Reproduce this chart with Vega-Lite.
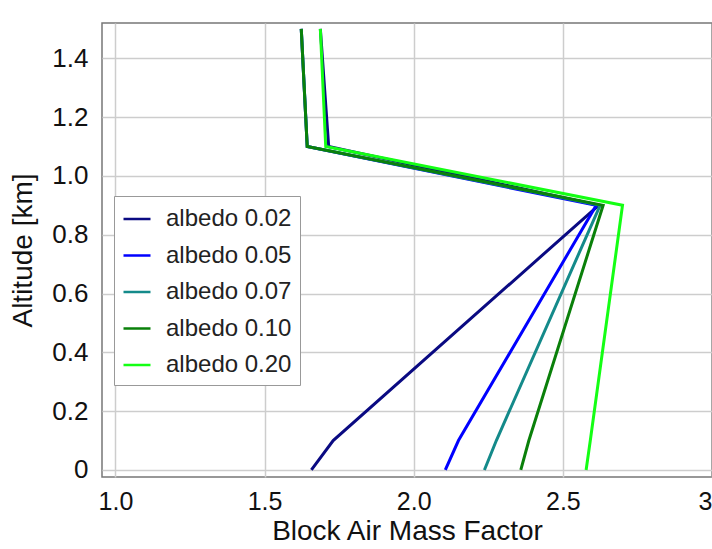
{
  "$schema": "https://vega.github.io/schema/vega-lite/v6.json",
  "autosize": {"type": "none"},
  "padding": {"left": 102, "top": 23, "right": 0, "bottom": 72},
  "width": 610,
  "height": 454,
  "background": "white",
  "data": {"values": [
    {"s": "albedo 0.02", "amf": 1.657, "alt": 0},
    {"s": "albedo 0.02", "amf": 1.73, "alt": 0.1},
    {"s": "albedo 0.02", "amf": 2.62, "alt": 0.9},
    {"s": "albedo 0.02", "amf": 1.715, "alt": 1.1},
    {"s": "albedo 0.02", "amf": 1.687, "alt": 1.5},
    {"s": "albedo 0.05", "amf": 2.106, "alt": 0},
    {"s": "albedo 0.05", "amf": 2.15, "alt": 0.1},
    {"s": "albedo 0.05", "amf": 2.612, "alt": 0.9},
    {"s": "albedo 0.05", "amf": 1.643, "alt": 1.1},
    {"s": "albedo 0.05", "amf": 1.623, "alt": 1.5},
    {"s": "albedo 0.07", "amf": 2.237, "alt": 0},
    {"s": "albedo 0.07", "amf": 2.277, "alt": 0.1},
    {"s": "albedo 0.07", "amf": 2.625, "alt": 0.9},
    {"s": "albedo 0.07", "amf": 1.643, "alt": 1.1},
    {"s": "albedo 0.07", "amf": 1.623, "alt": 1.5},
    {"s": "albedo 0.10", "amf": 2.359, "alt": 0},
    {"s": "albedo 0.10", "amf": 2.386, "alt": 0.1},
    {"s": "albedo 0.10", "amf": 2.635, "alt": 0.9},
    {"s": "albedo 0.10", "amf": 1.643, "alt": 1.1},
    {"s": "albedo 0.10", "amf": 1.623, "alt": 1.5},
    {"s": "albedo 0.20", "amf": 2.578, "alt": 0},
    {"s": "albedo 0.20", "amf": 2.592, "alt": 0.1},
    {"s": "albedo 0.20", "amf": 2.70, "alt": 0.9},
    {"s": "albedo 0.20", "amf": 1.705, "alt": 1.1},
    {"s": "albedo 0.20", "amf": 1.687, "alt": 1.5}
  ]},
  "mark": {"type": "line", "strokeWidth": 3, "clip": true},
  "encoding": {
    "x": {
      "field": "amf", "type": "quantitative",
      "scale": {"domain": [0.955, 3.0], "nice": false, "zero": false},
      "axis": {
        "title": "Block Air Mass Factor",
        "values": [1.0, 1.5, 2.0, 2.5, 3.0],
        "labelExpr": "datum.value == 3 ? '3' : format(datum.value, '.1f')",
        "labelFlush": true,
        "ticks": false,
        "labelPadding": 12,
        "labelFontSize": 25,
        "titlePadding": 3
      }
    },
    "y": {
      "field": "alt", "type": "quantitative",
      "scale": {"domain": [-0.024, 1.52], "nice": false, "zero": false},
      "axis": {
        "title": "Altitude [km]",
        "values": [0, 0.2, 0.4, 0.6, 0.8, 1.0, 1.2, 1.4],
        "labelExpr": "datum.value == 0 ? '0' : format(datum.value, '.1f')",
        "ticks": false,
        "labelPadding": 14,
        "titlePadding": 14
      }
    },
    "color": {
      "field": "s", "type": "nominal",
      "scale": {
        "domain": ["albedo 0.02", "albedo 0.05", "albedo 0.07", "albedo 0.10", "albedo 0.20"],
        "range": ["#0a0a82", "#0000ff", "#148a8a", "#0a800a", "#14ff14"]
      },
      "legend": {
        "title": null,
        "orient": "none",
        "legendX": 12,
        "legendY": 173,
        "symbolType": "stroke",
        "symbolSize": 729,
        "symbolStrokeWidth": 2.5,
        "labelFontSize": 24,
        "labelFont": "Liberation Sans",
        "labelColor": "#222",
        "rowPadding": 9.5,
        "padding": 8,
        "fillColor": "white",
        "strokeColor": "#999",
        "labelOffset": 14
      }
    },
    "order": {"field": "alt", "type": "quantitative"}
  },
  "config": {
    "font": "Liberation Sans",
    "view": {"stroke": "#777", "strokeWidth": 1.5},
    "axis": {
      "labelFont": "Liberation Sans",
      "labelFontSize": 26,
      "labelColor": "#111",
      "titleFont": "Liberation Sans",
      "titleFontSize": 28,
      "titleFontWeight": "normal",
      "titleColor": "#111",
      "grid": true,
      "gridColor": "#cdcdcd",
      "gridWidth": 1.5,
      "domain": false
    }
  }
}
